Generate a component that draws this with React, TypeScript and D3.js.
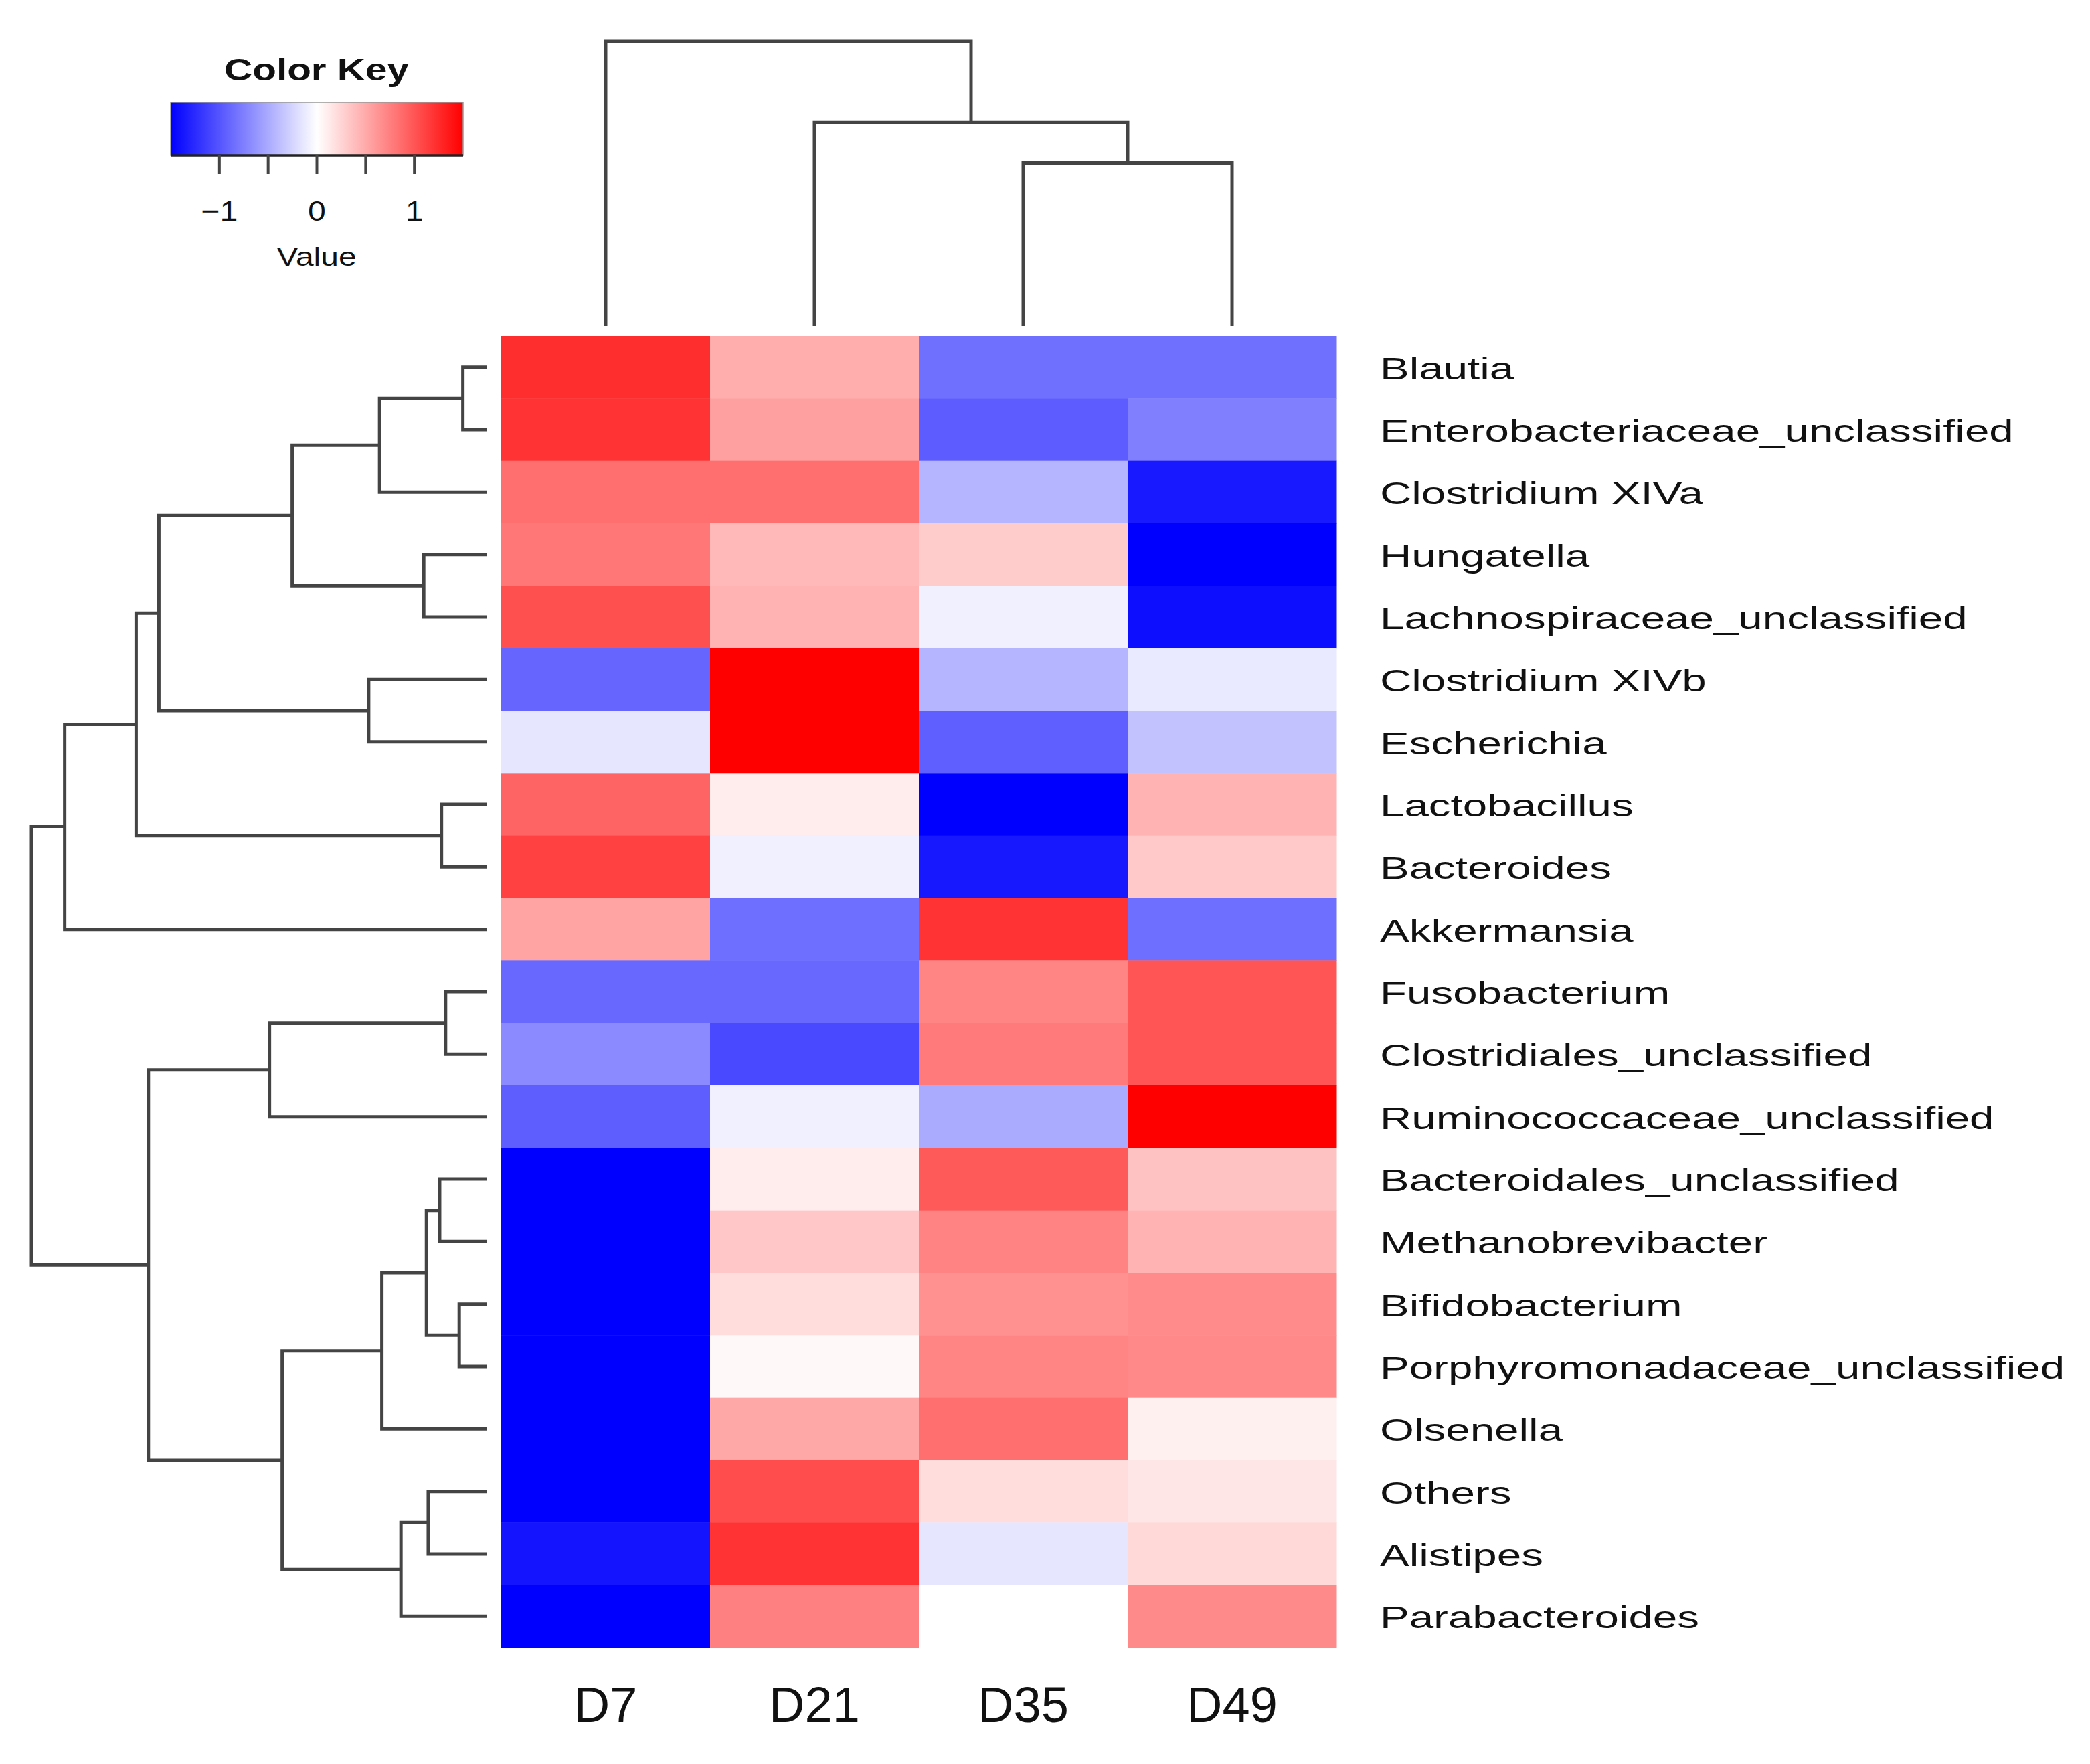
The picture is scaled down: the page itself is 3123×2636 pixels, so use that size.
import * as d3 from "d3";

const WIDTH = 3123;
const HEIGHT = 2636;

// row (genus) labels, in display order top -> bottom
const ROW_LABELS = [
  "Blautia",
  "Enterobacteriaceae_unclassified",
  "Clostridium XIVa",
  "Hungatella",
  "Lachnospiraceae_unclassified",
  "Clostridium XIVb",
  "Escherichia",
  "Lactobacillus",
  "Bacteroides",
  "Akkermansia",
  "Fusobacterium",
  "Clostridiales_unclassified",
  "Ruminococcaceae_unclassified",
  "Bacteroidales_unclassified",
  "Methanobrevibacter",
  "Bifidobacterium",
  "Porphyromonadaceae_unclassified",
  "Olsenella",
  "Others",
  "Alistipes",
  "Parabacteroides",
];

const COL_LABELS = ["D7", "D21", "D35", "D49"];

// scaled values per column (row order as above)
const D7 = [1.23, 1.2, 0.85, 0.8, 1.03, -0.9, -0.15, 0.91, 1.12, 0.54, -0.89, -0.68, -0.95, -1.5, -1.5, -1.5, -1.5, -1.5, -1.5, -1.38, -1.5];
const D21 = [0.48, 0.56, 0.85, 0.41, 0.45, 1.5, 1.5, 0.11, -0.09, -0.85, -0.89, -1.07, -0.09, 0.11, 0.33, 0.2, 0.04, 0.51, 1.05, 1.2, 0.75];
const D35 = [-0.84, -0.96, -0.44, 0.3, -0.09, -0.44, -0.94, -1.5, -1.36, 1.2, 0.72, 0.78, -0.5, 0.97, 0.73, 0.65, 0.72, 0.85, 0.2, -0.15, 0.0];
const D49 = [-0.84, -0.75, -1.35, -1.5, -1.42, -0.13, -0.36, 0.45, 0.32, -0.85, 1.0, 1.0, 1.5, 0.36, 0.45, 0.68, 0.7, 0.09, 0.15, 0.23, 0.69];
const COLUMNS = [D7, D21, D35, D49];

// hclust-style merges: negative = leaf (1-based), positive = earlier merge (1-based)
const ROW_MERGES = [
  [-1, -2], [1, -3], [-4, -5], [2, 3], [-6, -7], [4, 5], [-8, -9], [6, 7], [8, -10],
  [-11, -12], [10, -13], [-14, -15], [-16, -17], [12, 13], [14, -18], [-19, -20],
  [16, -21], [15, 17], [11, 18], [9, 19],
];
const ROW_HEIGHTS = [0.52, 2.35, 1.38, 4.27, 2.59, 7.2, 0.99, 7.7, 9.27, 0.9, 4.77, 1.03, 0.6, 1.32, 2.3, 1.28, 1.88, 4.49, 7.43, 10];

const COL_MERGES = [[-3, -4], [-2, 1], [-1, 2]];
const COL_HEIGHTS = [5.73, 7.15, 10];

const KEY_TICKS = [-1, -0.5, 0, 0.5, 1];
const KEY_LABELS = [-1, 0, 1];

const FONT = "'Liberation Sans', Arial, Helvetica, sans-serif";
const LINE = "#444";

type Node = { pos: number; h: number; a?: Node; b?: Node };

function buildTree(merges: number[][], heights: number[], leafPos: (i: number) => number) {
  const nodes: Node[] = [];
  const get = (id: number): Node => (id < 0 ? { pos: leafPos(-id - 1), h: 0 } : nodes[id - 1]);
  merges.forEach(([a, b], i) => {
    const A = get(a);
    const B = get(b);
    nodes.push({ pos: (A.pos + B.pos) / 2, h: heights[i], a: A, b: B });
  });
  return nodes;
}

export default function App() {
  const color = d3.scaleLinear<string>()
    .domain([-1.5, 0, 1.5])
    .range(["#0000ff", "#ffffff", "#ff0000"])
    .clamp(true);

  const x = d3.scaleBand().domain(COL_LABELS).range([749, 1997]);
  const y = d3.scaleBand().domain(ROW_LABELS).range([502, 2462]);

  // dendrogram height scales
  const rowH = d3.scaleLinear().domain([0, 10]).range([727, 47]);
  const colH = d3.scaleLinear().domain([0, 10]).range([487, 62]);

  const rowNodes = buildTree(ROW_MERGES, ROW_HEIGHTS, i => y(ROW_LABELS[i])! + y.bandwidth() / 2);
  const colNodes = buildTree(COL_MERGES, COL_HEIGHTS, i => x(COL_LABELS[i])! + x.bandwidth() / 2);

  const rowPaths = rowNodes.map(n =>
    `M${rowH(n.a!.h)},${n.a!.pos}H${rowH(n.h)}V${n.b!.pos}H${rowH(n.b!.h)}`);
  const colPaths = colNodes.map(n =>
    `M${n.a!.pos},${colH(n.a!.h)}V${colH(n.h)}H${n.b!.pos}V${colH(n.b!.h)}`);

  // color key
  const keyX = d3.scaleLinear().domain([-1.5, 1.5]).range([255, 692]);
  const keyTop = 153;
  const keyBottom = 232;
  const stops = d3.range(0, 1.0001, 0.1);

  return (
    <div style={{ position: "absolute", left: 0, top: 0 }}>
      <svg width={WIDTH} height={HEIGHT} style={{ display: "block", background: "#fff" }}>
        <defs>
          <linearGradient id="keyGrad" x1="0" x2="1" y1="0" y2="0">
            {stops.map(t => (
              <stop key={t} offset={t} stopColor={color(-1.5 + 3 * t)} />
            ))}
          </linearGradient>
        </defs>

        {/* heatmap cells */}
        {COLUMNS.map((col, j) =>
          col.map((v, i) => (
            <rect
              key={`${j}-${i}`}
              x={x(COL_LABELS[j])}
              y={y(ROW_LABELS[i])}
              width={x.bandwidth() + 0.5}
              height={y.bandwidth() + 0.5}
              fill={color(v)}
            />
          ))
        )}

        {/* dendrograms */}
        <g fill="none" stroke={LINE} strokeWidth={5}>
          {rowPaths.map((d, i) => <path key={`r${i}`} d={d} />)}
          {colPaths.map((d, i) => <path key={`c${i}`} d={d} />)}
        </g>

        {/* row labels */}
        <g fontFamily={FONT} fontSize={45.5} fill="#111">
          {ROW_LABELS.map(name => (
            <text
              key={name}
              transform={`translate(2062,${y(name)! + y.bandwidth() / 2 + 18}) scale(1.44,1)`}
            >
              {name}
            </text>
          ))}
        </g>

        {/* column labels */}
        <g fontFamily={FONT} fontSize={74} fill="#111" textAnchor="middle">
          {COL_LABELS.map(c => (
            <text key={c} x={x(c)! + x.bandwidth() / 2} y={2573}>{c}</text>
          ))}
        </g>

        {/* color key */}
        <text
          transform={`translate(473,120) scale(1.27,1)`}
          fontFamily={FONT}
          fontSize={46}
          fontWeight="bold"
          textAnchor="middle"
          fill="#111"
        >
          Color Key
        </text>
        <rect
          x={keyX(-1.5)}
          y={keyTop}
          width={keyX(1.5) - keyX(-1.5)}
          height={keyBottom - keyTop}
          fill="url(#keyGrad)"
          stroke="#999"
          strokeWidth={1.5}
        />
        <line x1={keyX(-1.5)} x2={keyX(1.5)} y1={keyBottom} y2={keyBottom} stroke="#222" strokeWidth={3.5} />
        {KEY_TICKS.map(t => (
          <line key={t} x1={keyX(t)} x2={keyX(t)} y1={keyBottom} y2={260} stroke="#444" strokeWidth={4} />
        ))}
        <g fontFamily={FONT} fontSize={42} fill="#111" textAnchor="middle">
          {KEY_LABELS.map(t => (
            <text key={t} transform={`translate(${keyX(t)},330) scale(1.15,1)`}>
              {t < 0 ? `\u2212${Math.abs(t)}` : `${t}`}
            </text>
          ))}
        </g>
        <text
          transform={`translate(473,397) scale(1.23,1)`}
          fontFamily={FONT}
          fontSize={39}
          textAnchor="middle"
          fill="#111"
        >
          Value
        </text>
      </svg>
    </div>
  );
}
